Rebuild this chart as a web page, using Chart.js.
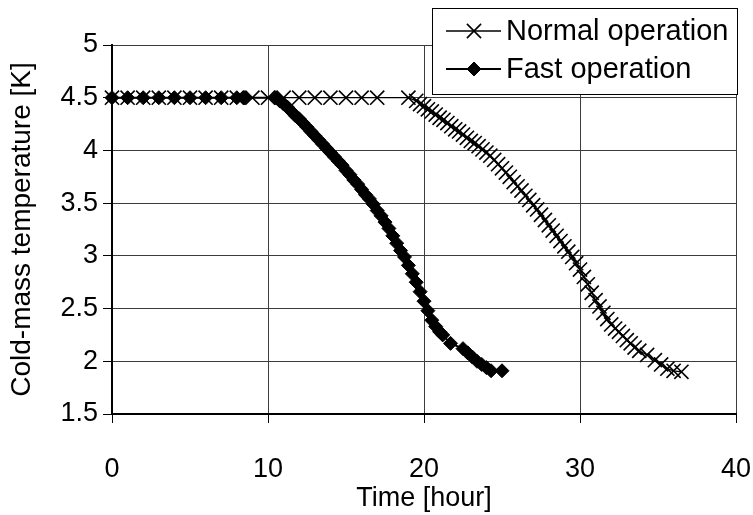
<!DOCTYPE html>
<html><head><meta charset="utf-8">
<script src="https://cdn.jsdelivr.net/npm/chart.js@4"></script>
<style>html,body{margin:0;padding:0;background:#fff;}#wrap{width:753px;height:515px;}</style>
</head><body><div id="wrap"><canvas id="c" width="753" height="515"></canvas></div>
<script>
// ---- data ----
const seriesNames = ['Normal operation', 'Fast operation'];
const normalTime = [0,1,2,3,4,5,6,7,8,9,10,11,12,13,14,15,16,17,19,
  19.5,19.75,20,20.25,20.5,20.75,21,21.25,21.5,21.75,22,22.25,22.5,22.75,23,23.25,23.5,23.75,
  24,24.25,24.5,24.75,25,25.25,25.5,25.75,26,26.25,26.5,26.75,27,27.25,27.5,27.75,
  28,28.25,28.5,28.75,29,29.25,29.5,29.75,30,30.25,30.5,30.75,31,31.25,31.5,31.75,
  32,32.25,32.5,32.75,33,33.25,33.5,33.8,34.3,34.8,35.2,35.6,36,36.5];
const normalTemp = [4.5,4.5,4.5,4.5,4.5,4.5,4.5,4.5,4.5,4.5,4.5,4.5,4.5,4.5,4.5,4.5,4.5,4.5,4.5,
  4.47,4.44,4.42,4.39,4.37,4.34,4.31,4.29,4.26,4.23,4.2,4.18,4.15,4.12,4.09,4.07,4.04,4.01,
  3.98,3.95,3.91,3.87,3.83,3.79,3.75,3.7,3.66,3.62,3.57,3.53,3.48,3.44,3.39,3.34,
  3.29,3.24,3.19,3.14,3.09,3.04,2.99,2.93,2.87,2.8,2.73,2.65,2.58,2.52,2.46,2.4,
  2.35,2.31,2.28,2.24,2.2,2.17,2.13,2.1,2.06,2.01,1.97,1.93,1.91,1.9];
const fastTime = [0,1,2,3,4,5,6,7,8,8.5,
  10.5,10.75,11,11.25,11.5,11.75,12,12.25,12.5,12.75,13,13.25,13.5,13.75,
  14,14.25,14.5,14.75,15,15.25,15.5,15.75,16,16.25,16.5,16.75,17,17.25,17.5,17.75,
  18,18.25,18.5,18.75,19,19.25,19.5,19.75,20,20.25,20.5,20.75,21,21.2,
  21.7,22.5,22.8,23.1,23.4,23.7,24,24.3,25];
const fastTemp = [4.5,4.5,4.5,4.5,4.5,4.5,4.5,4.5,4.5,4.5,
  4.5,4.47,4.44,4.41,4.37,4.33,4.3,4.26,4.22,4.18,4.14,4.1,4.06,4.02,
  3.98,3.94,3.9,3.86,3.81,3.77,3.72,3.68,3.63,3.58,3.54,3.49,3.43,3.38,3.32,3.26,
  3.19,3.12,3.05,2.99,2.91,2.83,2.75,2.66,2.57,2.48,2.39,2.33,2.28,2.25,
  2.17,2.12,2.08,2.04,2.0,1.97,1.94,1.91,1.91];
const xTickValues = [0,10,20,30,40];
const xTickLabels = ['0','10','20','30','40'];
const yTickValues = [1.5,2,2.5,3,3.5,4,4.5,5];
const yTickLabels = ['1.5','2','2.5','3','3.5','4','4.5','5'];
const xTitle = 'Time [hour]';
const yTitle = 'Cold-mass temperature [K]';

const FONT = "'Liberation Sans', Arial, sans-serif";
const toXY = (xs, ys) => xs.map((x, i) => ({x: x, y: ys[i]}));

const legendPlugin = {
  id: 'boxLegend',
  afterDraw(chart) {
    const ctx = chart.ctx;
    const bx = 432.5, by = 8.5, bw = 305, bh = 86;
    ctx.save();
    ctx.fillStyle = '#fff';
    ctx.fillRect(bx, by, bw, bh);
    ctx.strokeStyle = '#000';
    ctx.lineWidth = 1;
    ctx.strokeRect(bx, by, bw, bh);
    const rows = [
      {y: 31, ds: chart.data.datasets[1]},
      {y: 69, ds: chart.data.datasets[0]}
    ];
    rows.forEach(r => {
      const ds = r.ds;
      ctx.strokeStyle = '#000';
      ctx.lineWidth = ds.borderWidth;
      ctx.beginPath();
      ctx.moveTo(446, r.y);
      ctx.lineTo(501, r.y);
      ctx.stroke();
      ctx.fillStyle = '#000';
      ctx.lineWidth = ds.pointBorderWidth;
      Chart.helpers.drawPoint(ctx, {
        pointStyle: ds.pointStyle, rotation: 0,
        radius: ds.pointRadius, borderWidth: ds.pointBorderWidth
      }, 474, r.y);
      ctx.fillStyle = '#000';
      ctx.font = '29px ' + FONT;
      ctx.textBaseline = 'middle';
      ctx.textAlign = 'left';
      ctx.fillText(ds.label, 506, r.y + 1);
    });
    ctx.restore();
  }
};

new Chart(document.getElementById('c'), {
  type: 'scatter',
  data: {
    datasets: [
      {
        label: seriesNames[1],
        data: toXY(fastTime, fastTemp),
        showLine: true,
        borderColor: '#000',
        backgroundColor: '#000',
        borderWidth: 2,
        pointStyle: 'rectRot',
        pointRadius: 7,
        pointBorderWidth: 1,
        pointBackgroundColor: '#000',
        pointBorderColor: '#000',
        clip: false,
        order: 0
      },
      {
        label: seriesNames[0],
        data: toXY(normalTime, normalTemp),
        showLine: true,
        borderColor: '#000',
        backgroundColor: '#000',
        borderWidth: 1.3,
        pointStyle: 'crossRot',
        pointRadius: 10,
        pointBorderWidth: 1.6,
        pointBorderColor: '#000',
        clip: false,
        order: 1
      }
    ]
  },
  options: {
    responsive: false,
    animation: false,
    devicePixelRatio: 1,
    layout: {padding: {left: 0, right: 17, top: 45, bottom: 0}},
    plugins: {legend: {display: false}, tooltip: {enabled: false}},
    scales: {
      x: {
        type: 'linear', min: 0, max: 40,
        afterFit(s) { s.height = 101; s.paddingLeft = 0; s.paddingRight = 0; },
        afterBuildTicks(s) { s.ticks = xTickValues.map(v => ({value: v})); },
        ticks: {
          callback: (v) => xTickLabels[xTickValues.indexOf(v)],
          color: '#000', font: {family: FONT, size: 27}, padding: 30, maxRotation: 0
        },
        grid: {color: '#3c3c3c', lineWidth: 1, tickLength: 9, tickColor: '#000'},
        border: {color: '#000', width: 2},
        title: {display: true, text: xTitle, color: '#000', font: {family: FONT, size: 27}, padding: {top: 0, bottom: 0}}
      },
      y: {
        type: 'linear', min: 1.5, max: 5,
        afterFit(s) { s.width = 112; s.paddingTop = 0; s.paddingBottom = 0; },
        afterBuildTicks(s) { s.ticks = yTickValues.map(v => ({value: v})); },
        ticks: {
          callback: (v) => yTickLabels[yTickValues.indexOf(v)],
          color: '#000', font: {family: FONT, size: 27}, padding: 5
        },
        grid: {color: '#3c3c3c', lineWidth: 1, tickLength: 9, tickColor: '#000'},
        border: {color: '#000', width: 2},
        title: {display: true, text: yTitle, color: '#000', font: {family: FONT, size: 28}, padding: {top: 5, bottom: 0}}
      }
    }
  },
  plugins: [legendPlugin]
});
</script>
</body></html>
